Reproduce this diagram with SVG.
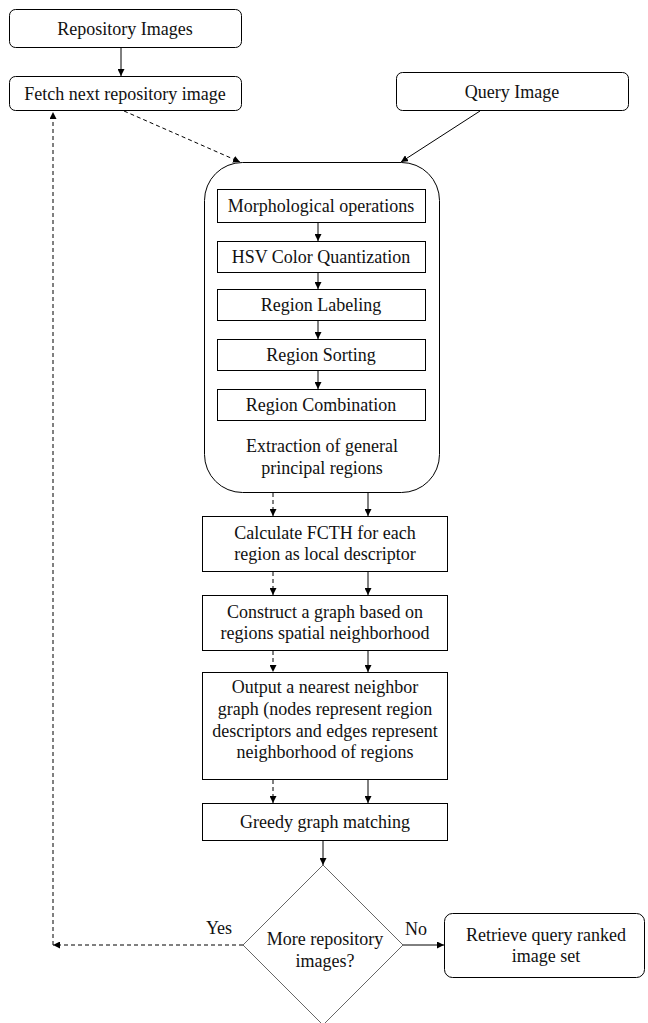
<svg xmlns="http://www.w3.org/2000/svg" width="648" height="1023" viewBox="0 0 648 1023">
<defs>
<marker id="ah" viewBox="0 0 10 10" refX="10" refY="5" markerWidth="7" markerHeight="7" markerUnits="userSpaceOnUse" orient="auto">
<path d="M0,0 L10,5 L0,10 z" fill="#000"/>
</marker>
</defs>
<style>
.box{fill:#fff;stroke:#000;stroke-width:1}
.t{font-family:'Liberation Serif','Times New Roman','DejaVu Serif',serif;font-size:18px;fill:#111;text-anchor:middle}
.c{stroke:#000;stroke-width:1;fill:none}
.d{stroke:#000;stroke-width:1;fill:none;stroke-dasharray:4,3}
</style>
<rect width="648" height="1023" fill="#fff"/>
<g id="repo"><rect class="box" x="9.5" y="9.5" width="232" height="38" rx="6"/><text class="t" x="125" y="35">Repository Images</text></g>
<g id="fetch"><rect class="box" x="9.5" y="76.5" width="232" height="34" rx="6"/><text class="t" x="125" y="100">Fetch next repository image</text></g>
<g id="query"><rect class="box" x="396.5" y="72.5" width="232" height="38" rx="6"/><text class="t" x="512" y="98">Query Image</text></g>
<g id="extraction">
<rect class="box" x="204.5" y="162.5" width="235" height="330" rx="38"/>
<text class="t" x="322" y="452">Extraction of general</text>
<text class="t" x="322" y="474">principal regions</text>
</g>
<g id="morph"><rect class="box" x="217.5" y="189.5" width="208" height="33"/><text class="t" x="321" y="212">Morphological operations</text></g>
<g id="hsv"><rect class="box" x="217.5" y="241.5" width="208" height="31"/><text class="t" x="321" y="263">HSV Color Quantization</text></g>
<g id="label"><rect class="box" x="217.5" y="289.5" width="208" height="31"/><text class="t" x="321" y="311">Region Labeling</text></g>
<g id="sort"><rect class="box" x="217.5" y="339.5" width="208" height="31"/><text class="t" x="321" y="361">Region Sorting</text></g>
<g id="comb"><rect class="box" x="217.5" y="389.5" width="208" height="31"/><text class="t" x="321" y="411">Region Combination</text></g>
<g id="fcth"><rect class="box" x="202.5" y="516.5" width="245" height="55"/><text class="t" x="325" y="539">Calculate FCTH for each</text><text class="t" x="325" y="560">region as local descriptor</text></g>
<g id="graph"><rect class="box" x="202.5" y="595.5" width="245" height="55"/><text class="t" x="325" y="618">Construct a graph based on</text><text class="t" x="325" y="639">regions spatial neighborhood</text></g>
<g id="output"><rect class="box" x="202.5" y="672.5" width="245" height="107"/><text class="t" x="325" y="693">Output a nearest neighbor</text><text class="t" x="325" y="715">graph (nodes represent region</text><text class="t" x="325" y="737">descriptors and edges represent</text><text class="t" x="325" y="758">neighborhood of regions</text></g>
<g id="greedy"><rect class="box" x="202.5" y="803.5" width="245" height="37"/><text class="t" x="325" y="828">Greedy graph matching</text></g>
<g id="decision"><polygon points="323,865 403,945 323,1025 243,945" fill="#fff" stroke="#666" stroke-width="1"/><text class="t" x="325" y="945">More repository</text><text class="t" x="325" y="967">images?</text></g>
<g id="retrieve"><rect class="box" x="444.5" y="913.5" width="200" height="64" rx="8"/><text class="t" x="546" y="941">Retrieve query ranked</text><text class="t" x="546" y="962">image set</text></g>
<g id="connectors">
<line class="c" x1="121" y1="48" x2="121" y2="76" marker-end="url(#ah)"/>
<line class="d" x1="124" y1="111" x2="240" y2="162" marker-end="url(#ah)"/>
<line class="c" x1="480" y1="111" x2="401" y2="162" marker-end="url(#ah)"/>
<line class="c" x1="318" y1="223" x2="318" y2="241" marker-end="url(#ah)"/>
<line class="c" x1="318" y1="273" x2="318" y2="289" marker-end="url(#ah)"/>
<line class="c" x1="318" y1="321" x2="318" y2="339" marker-end="url(#ah)"/>
<line class="c" x1="318" y1="371" x2="318" y2="389" marker-end="url(#ah)"/>
<line class="d" x1="273" y1="493" x2="273" y2="516" marker-end="url(#ah)"/>
<line class="c" x1="368" y1="493" x2="368" y2="516" marker-end="url(#ah)"/>
<line class="d" x1="273" y1="572" x2="273" y2="595" marker-end="url(#ah)"/>
<line class="c" x1="368" y1="572" x2="368" y2="595" marker-end="url(#ah)"/>
<line class="d" x1="273" y1="651" x2="273" y2="672" marker-end="url(#ah)"/>
<line class="c" x1="368" y1="651" x2="368" y2="672" marker-end="url(#ah)"/>
<line class="d" x1="273" y1="780" x2="273" y2="803" marker-end="url(#ah)"/>
<line class="c" x1="368" y1="780" x2="368" y2="803" marker-end="url(#ah)"/>
<line class="c" x1="323" y1="841" x2="323" y2="865" marker-end="url(#ah)"/>
<line class="d" x1="243" y1="945" x2="53" y2="945" marker-end="url(#ah)"/>
<line class="d" x1="53" y1="945" x2="53" y2="112" marker-end="url(#ah)"/>
<line class="c" x1="403" y1="945" x2="444" y2="945" marker-end="url(#ah)"/>
<text class="t" x="219" y="934">Yes</text>
<text class="t" x="416" y="935">No</text>
</g>
</svg>
